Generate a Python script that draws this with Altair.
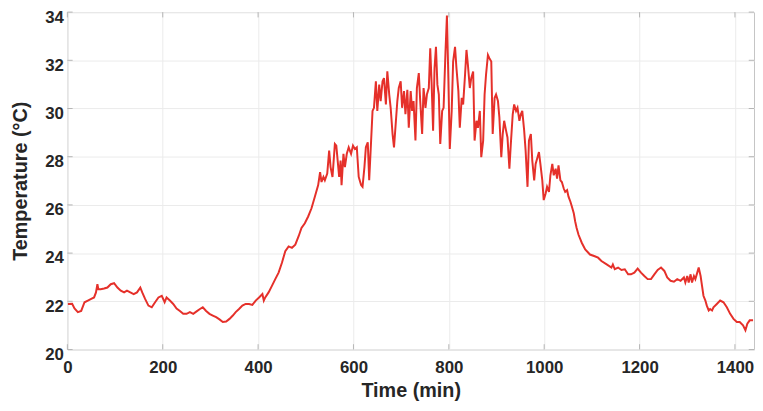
import altair as alt
import pandas as pd

time_min = [1, 10, 15, 22, 29, 36, 43, 50, 56, 60, 63, 65, 70, 77, 84, 91, 98, 105, 112, 119,
            125, 132, 139, 146, 153, 157, 163, 170, 177, 184, 191, 198, 204, 208, 215, 222, 229,
            236, 243, 250, 257, 264, 271, 278, 284, 291, 298, 305, 312, 319, 326, 333, 340, 347,
            353, 360, 367, 374, 381, 388, 395, 402, 409, 412, 415, 422, 429, 436, 443, 450, 457,
            464, 471, 478, 485, 491, 498, 505, 512, 519, 526, 530, 533, 537, 540, 545, 549, 552,
            556, 561, 564, 570, 573, 575, 579, 582, 586, 590, 595, 599, 603, 607, 611, 616, 619,
            623, 626, 630, 633, 637, 640, 643, 647, 650, 654, 657, 661, 664, 668, 671, 675, 678,
            682, 685, 689, 692, 695, 699, 702, 706, 709, 713, 716, 720, 723, 726, 730, 733, 737,
            740, 744, 747, 751, 754, 758, 761, 764, 767, 770, 773, 776, 779, 782, 786, 789, 793,
            796, 799, 802, 806, 809, 813, 816, 820, 823, 827, 830, 834, 837, 840, 844, 847, 851,
            854, 858, 861, 865, 868, 872, 875, 878, 882, 885, 889, 892, 896, 899, 903, 906, 910,
            913, 916, 920, 923, 927, 930, 934, 937, 941, 944, 948, 951, 954, 958, 961, 965, 968,
            972, 975, 979, 982, 986, 989, 992, 996, 999, 1003, 1006, 1010, 1013, 1017, 1020, 1024,
            1027, 1030, 1034, 1037, 1041, 1044, 1048, 1051, 1055, 1058, 1062, 1065, 1068, 1072,
            1079, 1086, 1096, 1106, 1113, 1120, 1131, 1141, 1144, 1148, 1155, 1162, 1169, 1176,
            1182, 1189, 1196, 1203, 1210, 1217, 1224, 1231, 1238, 1245, 1252, 1258, 1265, 1272,
            1279, 1286, 1293, 1296, 1300, 1303, 1307, 1310, 1314, 1317, 1321, 1324, 1328, 1331,
            1334, 1338, 1341, 1345, 1348, 1352, 1355, 1362, 1369, 1376, 1383, 1390, 1397, 1404,
            1410, 1417, 1422, 1426, 1431, 1438]

temperature = [21.89, 21.90, 21.70, 21.55, 21.60, 21.96, 22.03, 22.10, 22.16, 22.37, 22.71, 22.50,
               22.50, 22.53, 22.57, 22.71, 22.75, 22.57, 22.44, 22.37, 22.44, 22.37, 22.30, 22.37,
               22.57, 22.37, 22.10, 21.82, 21.75, 21.96, 22.16, 22.23, 21.96, 22.16, 22.03, 21.89,
               21.70, 21.60, 21.48, 21.48, 21.55, 21.48, 21.58, 21.68, 21.75, 21.60, 21.48, 21.41,
               21.34, 21.25, 21.14, 21.16, 21.27, 21.41, 21.55, 21.68, 21.82, 21.89, 21.89, 21.85,
               22.03, 22.16, 22.30, 22.03, 22.16, 22.37, 22.64, 22.92, 23.19, 23.60, 24.08, 24.28,
               24.22, 24.35, 24.70, 25.04, 25.24, 25.52, 25.86, 26.34, 26.82, 27.36, 26.95, 27.16,
               27.02, 27.30, 28.25, 27.57, 27.16, 28.53, 28.46, 27.16, 27.84, 26.82, 28.12, 27.57,
               28.12, 28.39, 28.12, 28.46, 28.32, 28.39, 27.16, 26.82, 26.75, 27.57, 28.39, 28.60,
               27.02, 28.66, 29.90, 30.03, 31.13, 29.90, 30.99, 30.31, 31.13, 31.26, 30.17, 31.54,
               30.58, 30.03, 28.94, 28.39, 29.48, 30.31, 30.85, 31.13, 30.03, 30.72, 29.76, 30.78,
               29.20, 30.72, 29.90, 30.31, 28.67, 30.85, 31.47, 30.31, 28.94, 30.85, 30.03, 30.58,
               30.85, 32.50, 30.99, 29.08, 31.67, 32.56, 30.99, 30.58, 28.53, 29.90, 30.03, 32.36,
               33.86, 31.26, 28.32, 29.90, 31.95, 32.56, 31.67, 30.72, 29.20, 30.44, 30.17, 31.40,
               32.43, 31.81, 30.85, 31.26, 31.54, 28.67, 29.49, 29.20, 29.90, 27.98, 28.67, 30.58,
               31.40, 32.22, 32.09, 31.95, 28.94, 30.44, 30.58, 30.31, 29.63, 27.98, 28.94, 29.49,
               29.08, 28.80, 27.50, 28.53, 29.76, 30.17, 29.90, 30.03, 29.49, 29.76, 29.90, 29.08,
               28.26, 26.75, 28.67, 28.94, 27.84, 27.02, 27.70, 27.98, 28.19, 27.70, 27.02, 26.20,
               26.47, 26.75, 26.54, 27.23, 27.70, 27.23, 27.50, 27.09, 27.64, 27.02, 26.95, 26.68,
               26.54, 26.61, 26.34, 26.13, 25.93, 25.65, 25.31, 25.04, 24.76, 24.42, 24.15, 23.94,
               23.87, 23.81, 23.67, 23.53, 23.40, 23.53, 23.33, 23.40, 23.30, 23.33, 23.12, 23.12,
               23.19, 23.36, 23.19, 23.05, 22.92, 22.92, 23.12, 23.30, 23.40, 23.26, 22.99, 22.85,
               22.81, 22.92, 22.85, 22.99, 22.78, 23.05, 22.78, 23.12, 22.78, 23.05, 22.92, 23.19,
               23.40, 23.05, 22.64, 22.23, 22.03, 21.82, 21.62, 21.68, 21.62, 21.75, 21.89, 22.03,
               21.96, 21.75, 21.48, 21.27, 21.14, 21.14, 21.00, 20.80, 21.07, 21.21, 21.21]

x_ticks = [0, 200, 400, 600, 800, 1000, 1200, 1400]
y_ticks = [20, 22, 24, 26, 28, 30, 32, 34]

df = pd.DataFrame({"t": time_min, "temp": temperature})

FONT = "Liberation Sans"

x_scale = alt.Scale(domain=[0, 1440], nice=False, zero=False)
y_scale = alt.Scale(domain=[20, 34], nice=False, zero=False)

line = alt.Chart(df).mark_line(color="#e5302a", strokeWidth=2, clip=True).encode(
    x=alt.X("t:Q", scale=x_scale,
            axis=alt.Axis(title="Time (min)", values=x_ticks, format="d", ticks=False,
                          domain=False, labelPadding=10, titlePadding=6, grid=True,
                          labelFlush=False)),
    y=alt.Y("temp:Q", scale=y_scale,
            axis=alt.Axis(title="Temperature (°C)", values=y_ticks, format="d", ticks=False,
                          domain=False, labelPadding=4, labelOffset=5, titlePadding=14,
                          grid=True, labelFlush=False)),
)

# inward tick marks (MATLAB style)
bt = pd.DataFrame({"x": x_ticks})
bottom_ticks = alt.Chart(bt).mark_rule(color="#b5b5b5", strokeWidth=1).encode(
    x=alt.X("x:Q", scale=x_scale), y=alt.datum(20), y2=alt.datum(20.22))
top_ticks = alt.Chart(bt).mark_rule(color="#b5b5b5", strokeWidth=1).encode(
    x=alt.X("x:Q", scale=x_scale), y=alt.datum(34), y2=alt.datum(33.78))
lt = pd.DataFrame({"y": y_ticks})
left_ticks = alt.Chart(lt).mark_rule(color="#b5b5b5", strokeWidth=1).encode(
    y=alt.Y("y:Q", scale=y_scale), x=alt.datum(0), x2=alt.datum(11))
right_ticks = alt.Chart(lt).mark_rule(color="#b5b5b5", strokeWidth=1).encode(
    y=alt.Y("y:Q", scale=y_scale), x=alt.datum(1440), x2=alt.datum(1429))

chart = alt.layer(line, bottom_ticks, top_ticks, left_ticks, right_ticks).properties(
    width=694, height=341,
    autosize=alt.AutoSizeParams(type="none"),
    padding={"left": 60, "top": 2, "right": 1, "bottom": 60},
).configure_view(
    stroke="#c4c4c4", strokeWidth=1
).configure_axis(
    labelFont=FONT, titleFont=FONT, labelFontSize=17, titleFontSize=20,
    labelFontWeight="bold", titleFontWeight="bold",
    labelColor="#262626", titleColor="#262626",
    gridColor="#ebebeb", gridWidth=1,
)

chart.save("out.html", embed_options={"renderer": "svg", "actions": False})
